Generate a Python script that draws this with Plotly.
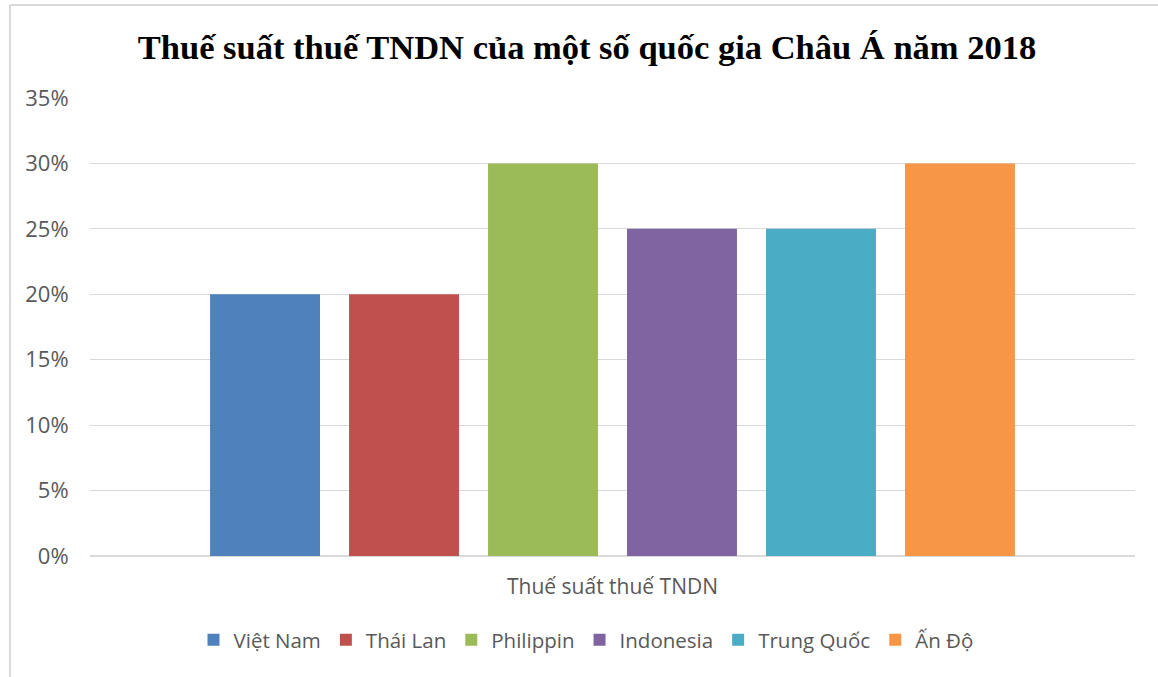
import plotly.graph_objects as go

# Corporate income tax rates, Asian countries, 2018
category = ["Thuế suất thuế TNDN"]
countries = ["Việt Nam", "Thái Lan", "Philippin", "Indonesia", "Trung Quốc", "Ấn Độ"]
rates = [0.20, 0.20, 0.30, 0.25, 0.25, 0.30]
colors = ["#4f81bd", "#c0504d", "#9bbb59", "#8064a2", "#4bacc6", "#f79646"]
y_ticks = [0, 0.05, 0.10, 0.15, 0.20, 0.25, 0.30, 0.35]

W, H = 1158, 677
L, R, T, B = 90, 23, 98, 121
pw, ph = W - L - R, H - T - B

fig = go.Figure()
for name, val, col in zip(countries, rates, colors):
    fig.add_trace(go.Bar(x=category, y=[val], name=name, marker_color=col,
                         marker_line_width=0))

def px_x(v):
    return (v - L) / pw

def px_y(v):
    return (H - B - v) / ph

fig.update_layout(
    width=W, height=H,
    margin=dict(l=L, r=R, t=T, b=B),
    paper_bgcolor="white", plot_bgcolor="white",
    barmode="group", bargap=0.202, bargroupgap=0.209,
    title=dict(text="<b>Thuế suất thuế TNDN của một số quốc gia Châu Á năm 2018</b>",
               x=587 / W, xanchor="center", y=1 - 47 / H, yanchor="middle",
               font=dict(family="Liberation Serif", size=34.5, color="black")),
    font=dict(family="Open Sans", color="#595959"),
    legend=dict(orientation="h", x=px_x(586), xanchor="center", xref="paper",
                y=px_y(640), yanchor="middle",
                font=dict(size=20.5, color="#595959"), traceorder="normal",
                itemwidth=30, bgcolor="rgba(0,0,0,0)"),
    showlegend=True,
    xaxis=dict(showgrid=False, showline=False, ticks="outside", ticklen=12,
               tickcolor="rgba(0,0,0,0)", tickfont=dict(size=21, color="#595959")),
    yaxis=dict(range=[0, 0.35], tickvals=y_ticks, tickformat=".0%",
               showgrid=True, gridcolor="#d9d9d9", gridwidth=1,
               zeroline=True, zerolinecolor="#d9d9d9", zerolinewidth=1.5,
               ticks="outside", ticklen=16, tickcolor="rgba(0,0,0,0)",
               tickfont=dict(size=22, color="#595959")),
    shapes=[
        dict(type="line", xref="paper", yref="paper",
             x0=px_x(10), x1=px_x(W + 5), y0=px_y(5), y1=px_y(5),
             line=dict(color="#d9d9d9", width=2)),
        dict(type="line", xref="paper", yref="paper",
             x0=px_x(10), x1=px_x(10), y0=px_y(5), y1=px_y(H + 5),
             line=dict(color="#d9d9d9", width=2)),
    ],
)

fig.write_html("out.html")
